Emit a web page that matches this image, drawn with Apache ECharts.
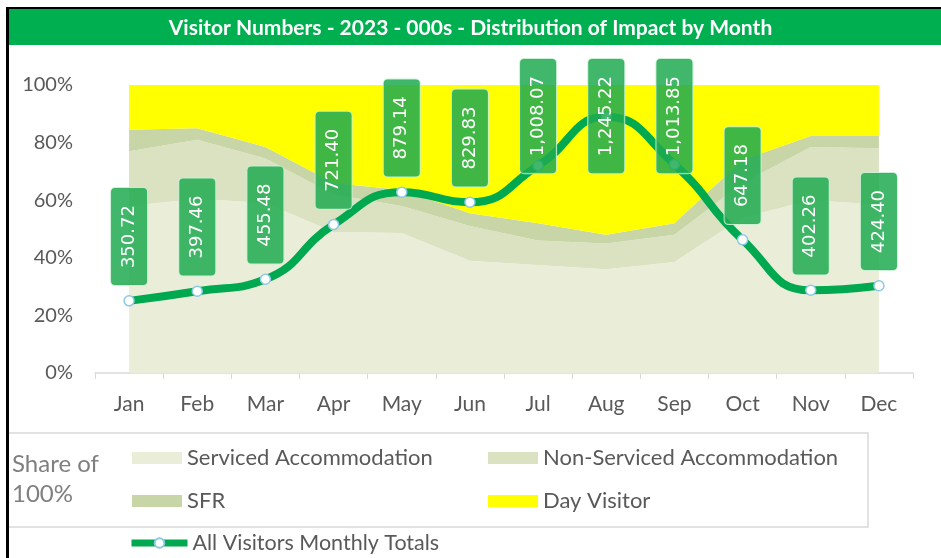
<!DOCTYPE html>
<html>
<head>
<meta charset="utf-8">
<title>Visitor Numbers 2023</title>
<script src="https://cdn.jsdelivr.net/npm/echarts@6/dist/echarts.min.js"></script>
<style>
    html, body { margin: 0; padding: 0; background: #fff; }
    #chart { width: 941px; height: 558px; }
</style>
</head>
<body>
<div id="chart"></div>
<script>
// months on the category axis
var months = ['Jan', 'Feb', 'Mar', 'Apr', 'May', 'Jun', 'Jul', 'Aug', 'Sep', 'Oct', 'Nov', 'Dec'];

// share of 100% per visitor type
var serviced = [58, 60.5, 59, 49, 48.6, 39, 37.5, 36, 38.5, 54, 60, 58.5];
var nonServiced = [19, 20.5, 15.5, 13, 9.4, 12, 8.5, 9, 9.5, 12, 18.5, 19.5];
var sfr = [7.5, 4, 4, 4, 5.5, 4.5, 6, 3, 4, 8, 3.8, 4.3];
var dayVisitor = [15.5, 15, 21.5, 34, 36.5, 44.5, 48, 52, 48, 26, 17.7, 17.7];

// all visitors, 000s
var monthlyTotals = [350.72, 397.46, 455.48, 721.40, 879.14, 829.83, 1008.07, 1245.22, 1013.85, 647.18, 402.26, 424.40];

var percentTicks = [0, 20, 40, 60, 80, 100];

document.addEventListener('DOMContentLoaded', function () {
    var chartDom = document.getElementById('chart');
    var myChart = echarts.init(chartDom);

    var labelFont = "Lato, 'Open Sans', sans-serif";
    var textGrey = '#595959';
    var labelTop = 58;

    function areaSeries(name, values, color) {
        return {
            name: name,
            type: 'line',
            stack: 'share',
            data: values,
            symbol: 'none',
            color: color,
            lineStyle: { width: 0 },
            areaStyle: { color: color, opacity: 1 },
            silent: true,
            z: 2
        };
    }

    var legendText = { color: textGrey, fontFamily: labelFont, fontSize: 22, lineHeight: 24 };

    var option = {
        animation: false,
        title: {
            text: 'Visitor Numbers - 2023 - 000s - Distribution of Impact by Month',
            left: 'center',
            top: 13,
            textStyle: {
                color: '#ffffff',
                fontFamily: labelFont,
                fontWeight: 'bold',
                fontSize: 21
            }
        },
        graphic: [
            { type: 'rect', shape: { x: 6, y: 7, width: 935, height: 2 }, style: { fill: '#000' }, z: 10 },
            { type: 'rect', shape: { x: 6, y: 7, width: 3, height: 551 }, style: { fill: '#000' }, z: 10 },
            { type: 'rect', shape: { x: 9, y: 9, width: 932, height: 36 }, style: { fill: '#00b050' }, z: -1 },
            {
                type: 'rect',
                shape: { x: 8, y: 433, width: 860, height: 94 },
                style: { fill: 'none', stroke: '#d9d9d9', lineWidth: 1.5 }
            },
            {
                type: 'text', left: 12, top: 452,
                style: { text: 'Share of', fill: '#7f7f7f', font: '24px ' + labelFont }
            },
            {
                type: 'text', left: 12, top: 482,
                style: { text: '100%', fill: '#7f7f7f', font: '24px ' + labelFont }
            }
        ],
        legend: [
            {
                data: ['Serviced Accommodation', 'SFR'],
                orient: 'vertical',
                left: 132, top: 446,
                padding: 0,
                icon: 'rect',
                itemWidth: 50, itemHeight: 12, itemGap: 19,
                textStyle: legendText,
                selectedMode: false
            },
            {
                data: ['Non-Serviced Accommodation', 'Day Visitor'],
                orient: 'vertical',
                left: 488, top: 446,
                padding: 0,
                icon: 'rect',
                itemWidth: 50, itemHeight: 12, itemGap: 19,
                textStyle: legendText,
                selectedMode: false
            },
            {
                data: ['All Visitors Monthly Totals'],
                left: 128, top: 531,
                padding: 0,
                itemWidth: 56, itemHeight: 12,
                lineStyle: { width: 7 },
                textStyle: { color: textGrey, fontFamily: labelFont, fontSize: 21.5, lineHeight: 24 },
                selectedMode: false
            }
        ],
        grid: { left: 95, right: 28, top: 85, bottom: 185 },
        xAxis: {
            type: 'category',
            data: months,
            boundaryGap: true,
            axisLine: { lineStyle: { color: '#d9d9d9', width: 1.5 } },
            axisTick: { show: true, length: 6, lineStyle: { color: '#d9d9d9' } },
            axisLabel: { color: textGrey, fontFamily: labelFont, fontSize: 21, margin: 21 }
        },
        yAxis: [
            {
                type: 'value',
                min: percentTicks[0],
                max: percentTicks[percentTicks.length - 1],
                interval: 20,
                axisLine: { show: false },
                axisTick: { show: false },
                splitLine: { show: false },
                axisLabel: { color: textGrey, fontFamily: labelFont, fontSize: 20, margin: 22, formatter: '{value}%' }
            },
            {
                type: 'value',
                min: 0,
                max: 1400,
                show: false,
                splitLine: { show: false }
            }
        ],
        series: [
            areaSeries('Serviced Accommodation', serviced, '#eaeed9'),
            areaSeries('Non-Serviced Accommodation', nonServiced, '#dae2c2'),
            areaSeries('SFR', sfr, '#c8d5a6'),
            areaSeries('Day Visitor', dayVisitor, '#ffff00'),
            {
                name: 'All Visitors Monthly Totals',
                type: 'line',
                yAxisIndex: 1,
                data: monthlyTotals,
                smooth: 0.5,
                color: '#00a84f',
                lineStyle: { color: '#00a84f', width: 8 },
                symbol: 'circle',
                symbolSize: 10,
                itemStyle: { color: '#ffffff', borderColor: '#8cc8ea', borderWidth: 1.5 },
                z: 5,
                label: {
                    show: true,
                    position: 'top',
                    distance: 10,
                    rotate: 90,
                    align: 'left',
                    verticalAlign: 'middle',
                    color: '#ffffff',
                    fontFamily: "'DejaVu Sans', sans-serif",
                    fontSize: 18,
                    lineHeight: 22,
                    padding: [7, 17],
                    backgroundColor: 'rgba(30,170,80,0.85)',
                    borderColor: 'rgba(200,240,210,0.9)',
                    borderWidth: 1,
                    borderRadius: 4,
                    formatter: function (p) {
                        return p.value.toLocaleString('en-US', { minimumFractionDigits: 2, maximumFractionDigits: 2 });
                    }
                }
            }
        ],
        // keep the tall labels inside the chart area, under the title bar
        // (the label is rotated, so its local x runs upward on screen)
        labelLayout: function (params) {
            if (params.seriesIndex === 4 && params.labelRect.y < labelTop) {
                return { dx: params.labelRect.y - labelTop };
            }
            return {};
        }
    };

    myChart.setOption(option);

    window.addEventListener('resize', function () {
        myChart.resize();
    });
});
</script>
</body>
</html>
